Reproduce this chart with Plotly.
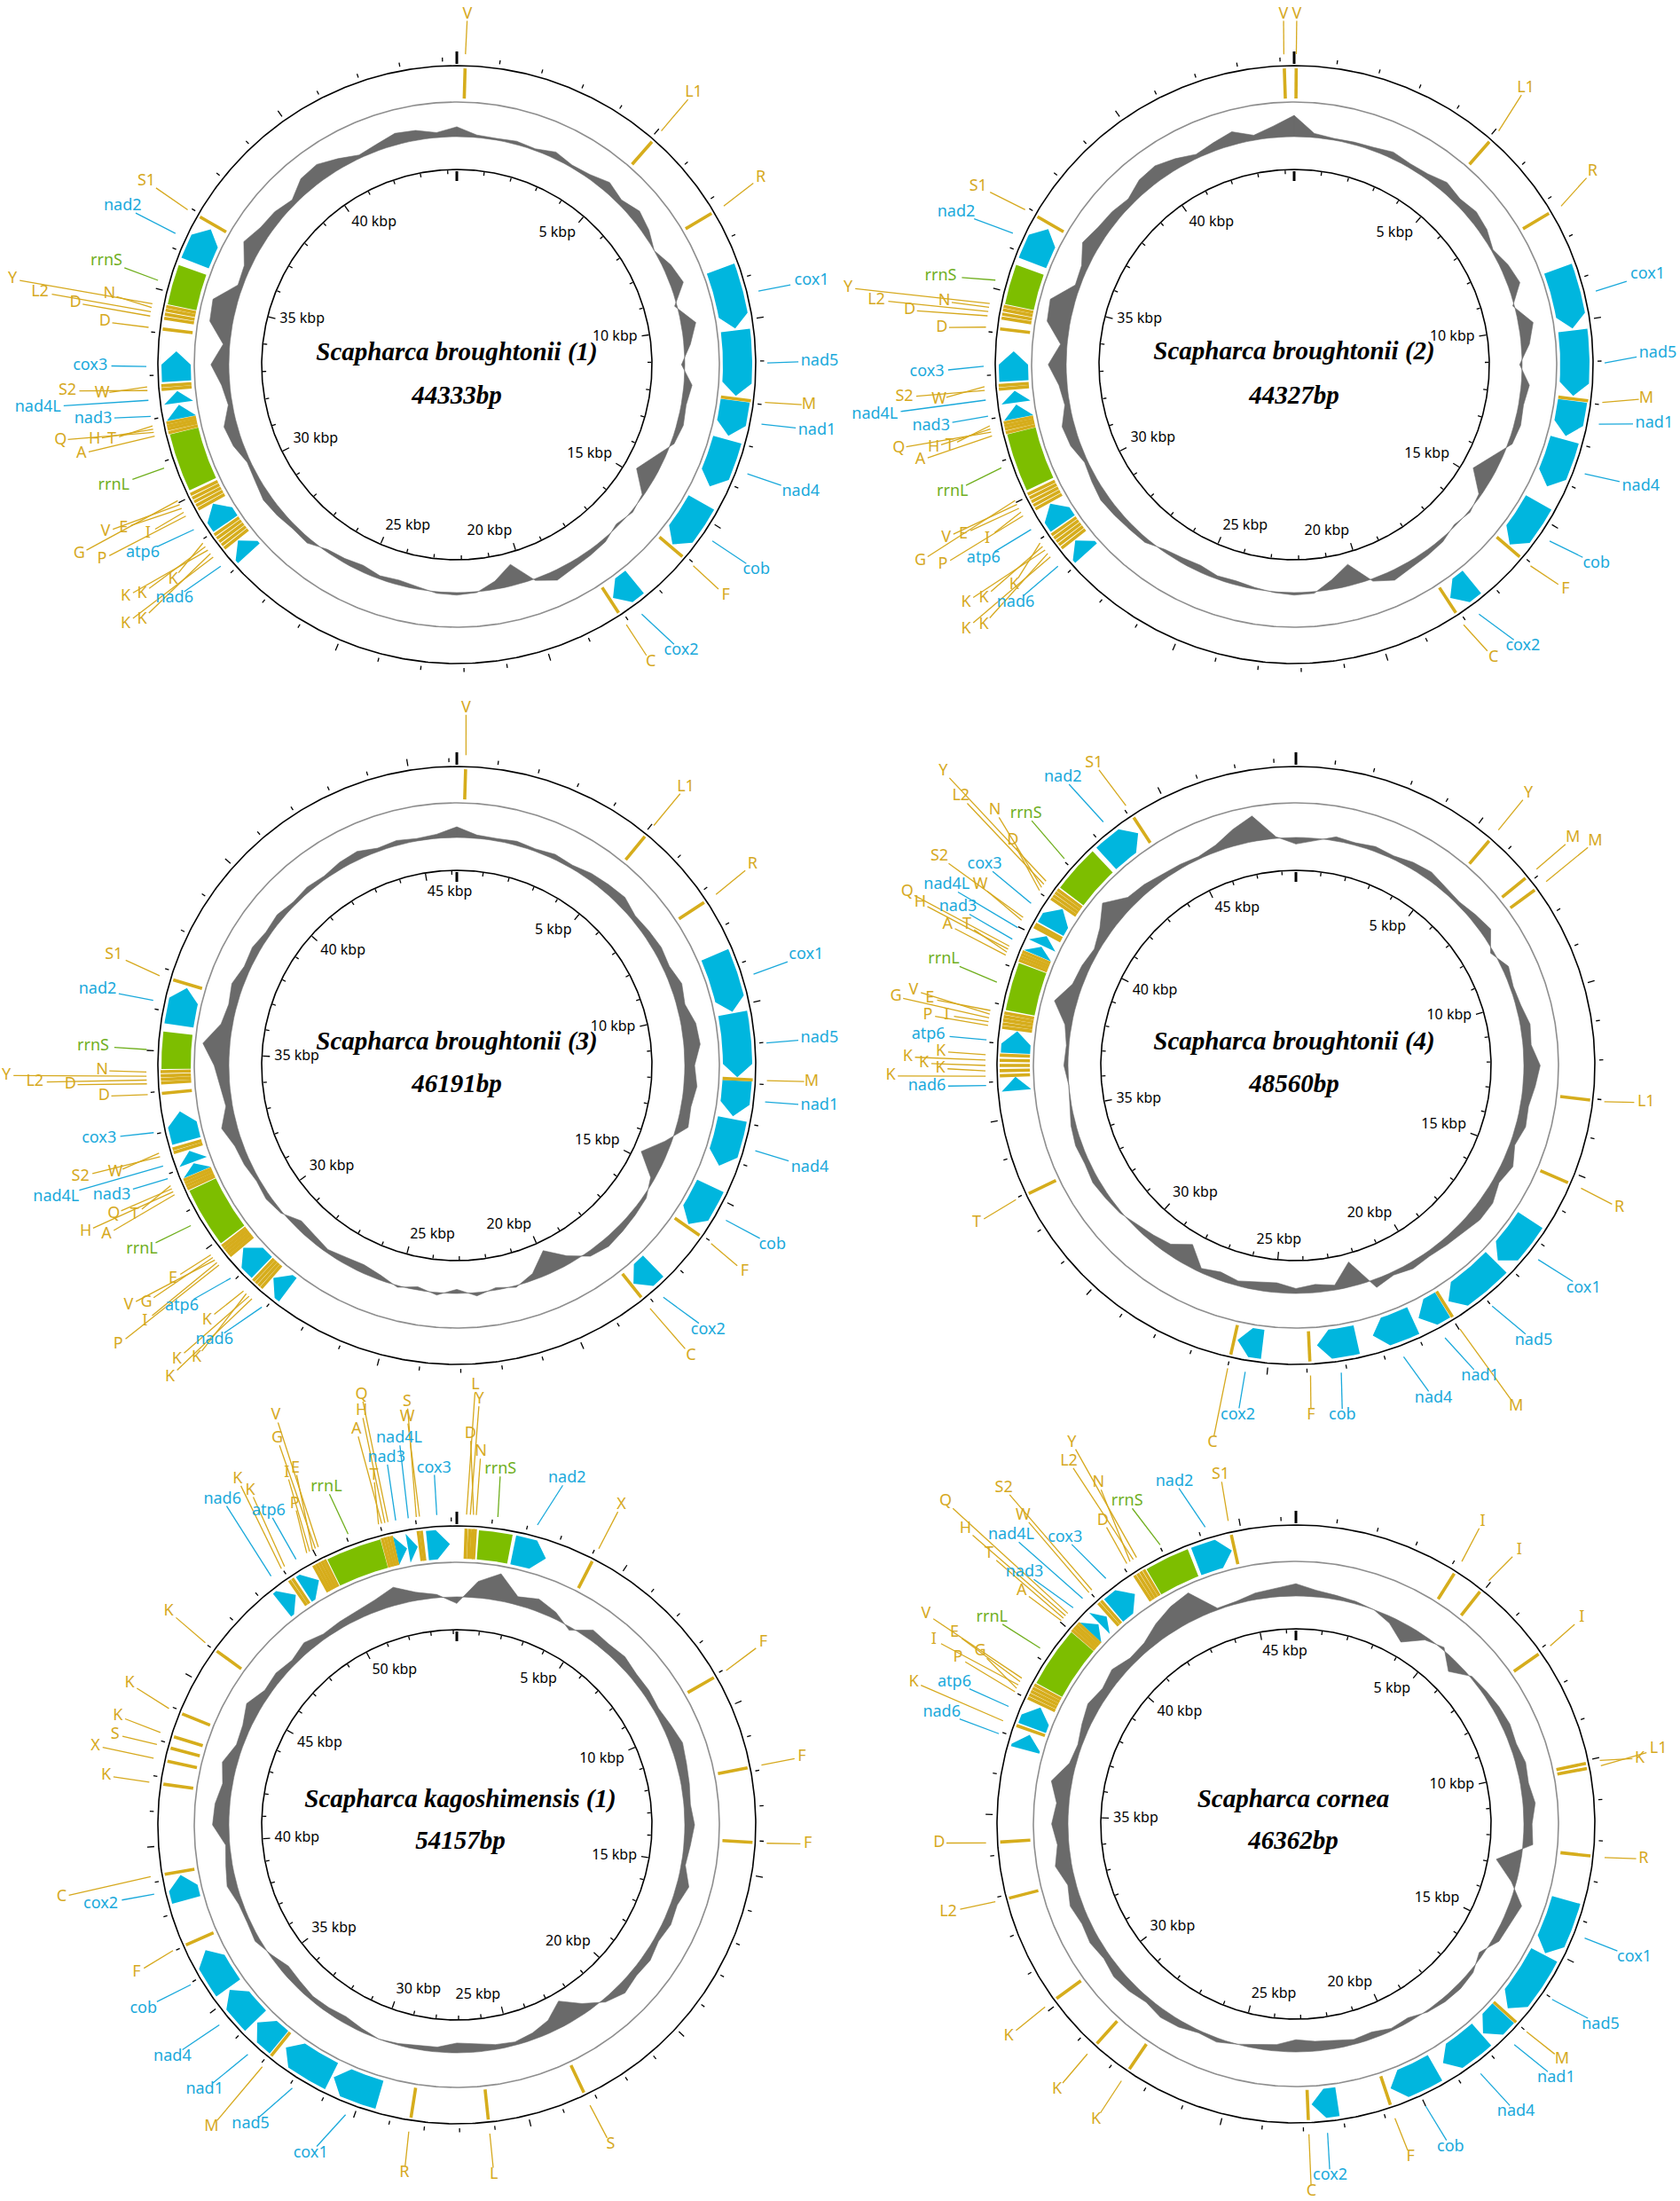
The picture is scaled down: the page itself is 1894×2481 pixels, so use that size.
import math
import plotly.graph_objects as go

# ============================================================ DATA
# positions in kbp (tRNA: start == end), GC deviation in arbitrary units (sampled every 5 deg)

m1_title, m1_len = "Scapharca broughtonii (1)", 44333
m1_names = ["V", "L1", "R", "cox1", "nad5", "M", "nad1", "nad4", "cob", "F", "cox2", "C",
            "nad6", "K", "K", "K", "K", "K", "atp6", "P", "I", "E", "V", "G", "rrnL",
            "A", "Q", "H", "T", "nad3", "nad4L", "S2", "W", "cox3", "D", "D", "L2", "N", "Y", "rrnS", "nad2", "S1"]
m1_start = [0.197, 5.074, 7.303, 8.620, 10.221, 11.945, 11.994, 12.992, 14.704, 16.058, 17.327, 18.090,
            28.053, 28.533, 28.632, 28.730, 28.829, 28.927, 29.001, 29.654, 29.752, 29.851, 29.949, 30.048, 30.146,
            31.612, 31.698, 31.772, 31.846, 31.895, 32.289, 32.659, 32.745, 32.831, 34.099, 34.358, 34.457, 34.555,
            34.641, 34.703, 35.860, 36.932]
m1_end = [0.197, 5.074, 7.303, 10.172, 11.871, 11.945, 12.894, 14.248, 15.985, 16.058, 18.004, 18.090,
          28.472, 28.533, 28.632, 28.730, 28.829, 28.927, 29.592, 29.654, 29.752, 29.851, 29.949, 30.048, 31.563,
          31.612, 31.698, 31.772, 31.846, 32.240, 32.585, 32.659, 32.745, 33.582, 34.099, 34.358, 34.457, 34.555,
          34.641, 35.676, 36.796, 36.932]
m1_gc = [12, 3, 2, 4, 2, 8, 3, 5, 12, 6, 13, 8,
         0, 10, 16, -3, 18, 8, -4, 10, 6, 8, 4, -12,
         -25, -2, 2, -3, 4, 6, 8, 12, 2, -26, -10, 1,
         3, 2, -3, -6, -4, -8, -5, -3, 6, 5, 8, 10,
         6, 4, 12, 16, 5, 10, 22, 8, 28, 30, 6, 8,
         22, 14, 12, 6, 18, 20, 12, 4, 8, 14, 12, 6]

m2_title, m2_len = "Scapharca broughtonii (2)", 44327
m2_names = ["V", "V"] + m1_names[1:]
m2_start = [44.093, 0.049] + m1_start[1:]
m2_end = [44.093, 0.049] + m1_end[1:]
m2_gc = [26, 5, 2, 3, 4, 8, 5, 6, 12, 8, 12, 9,
         2, 10, 15, -2, 18, 10, -3, 10, 6, 8, 5, -12,
         -26, -3, 2, -2, 4, 6, 8, 12, 3, -26, -12, 2,
         3, 1, -2, -5, -4, -8, -6, -3, 5, 6, 8, 10,
         7, 4, 12, 15, 6, 10, 22, 8, 28, 30, 6, 8,
         20, 14, 12, 8, 16, 18, 12, 5, 10, 16, 6, 14]

m3_title, m3_len = "Scapharca broughtonii (3)", 46191
m3_names = ["V", "L1", "R", "cox1", "nad5", "M", "nad1", "nad4", "cob", "F", "cox2", "C",
            "nad6", "K", "K", "K", "K", "atp6", "P", "I", "V", "G", "E", "rrnL",
            "A", "H", "Q", "T", "nad3", "nad4L", "S2", "W", "cox3", "D", "D", "L2", "Y", "N", "rrnS", "nad2", "S1"]
m3_start = [0.218, 5.055, 7.262, 8.571, 10.175, 11.907, 11.945, 12.959, 14.807, 16.039, 17.399, 18.156,
            27.843, 28.395, 28.484, 28.574, 28.664, 28.741, 29.511, 29.588, 29.665, 29.742, 29.819, 29.896,
            31.487, 31.564, 31.641, 31.718, 31.769, 32.064, 32.449, 32.539, 32.642, 33.950, 34.207, 34.297, 34.387,
            34.489, 34.553, 35.696, 36.799]
m3_end = [0.218, 5.055, 7.262, 10.136, 11.856, 11.907, 12.882, 14.229, 15.962, 16.039, 18.092, 18.156,
          28.330, 28.395, 28.484, 28.574, 28.664, 29.447, 29.511, 29.588, 29.665, 29.742, 29.819, 31.423,
          31.487, 31.564, 31.641, 31.718, 32.026, 32.372, 32.449, 32.539, 33.437, 33.950, 34.207, 34.297, 34.387,
          34.489, 35.490, 36.696, 36.799]
m3_gc = [13, 4, 3, 5, 3, 6, 4, 8, 10, 12, 6, 8,
         10, 8, 14, 10, 18, 20, 12, 16, 12, 14, -8, -30,
         -5, 4, 6, 8, 10, 6, -10, -29, -8, 2, -3, 4,
         -5, 3, -4, 2, -6, -10, -8, -4, -8, -10, 2, 6,
         4, 8, 10, 19, 8, 12, 18, 33, 14, 10, 14, 8,
         10, 6, 8, 4, 6, 4, 8, 10, 4, 6, 3, 5]

m4_title, m4_len = "Scapharca broughtonii (4)", 48560
m4_names = ["Y", "M", "M", "L1", "R", "cox1", "nad5", "M", "nad1", "nad4", "cob", "F", "cox2", "C", "T",
            "nad6", "K", "K", "K", "K", "K", "atp6", "P", "I", "G", "V", "E", "rrnL",
            "A", "T", "H", "Q", "nad3", "nad4L", "W", "S2", "cox3", "D", "N", "L2", "Y", "rrnS", "nad2", "S1"]
m4_start = [5.490, 6.852, 7.244, 13.044, 15.283, 16.645, 18.143, 19.977, 20.031, 20.948, 22.594, 23.916,
            25.197, 25.993, 32.967,
            35.732, 36.150, 36.285, 36.420, 36.554, 36.690, 36.757, 37.418, 37.513, 37.607, 37.702, 37.796, 37.877,
            39.226, 39.307, 39.388, 39.469, 39.523, 39.833, 40.184, 40.264, 40.346, 41.047, 41.141, 41.236, 41.330,
            41.411, 42.827, 44.082]
m4_end = [5.490, 6.852, 7.244, 13.044, 15.283, 18.075, 19.842, 19.977, 20.786, 22.135, 23.700, 23.916,
          25.899, 25.993, 32.967,
          36.110, 36.150, 36.285, 36.420, 36.554, 36.690, 37.364, 37.418, 37.513, 37.607, 37.702, 37.796, 39.158,
          39.226, 39.307, 39.388, 39.469, 39.792, 40.116, 40.184, 40.264, 40.981, 41.047, 41.141, 41.236, 41.330,
          42.692, 43.947, 44.082]
m4_gc = [-8, -3, 5, 3, 6, 4, 8, 10, 6, 4, 8, 12,
         -4, 8, 4, 6, 12, 10, 20, 15, 10, 12, 6, 14,
         8, 15, 15, 10, 8, 6, 8, 4, 10, -30, -6, -10,
         -6, -12, -10, -6, -10, -5, -26, -12, -8, -4, 2, 5,
         8, 6, 8, 6, 2, 0, 5, 3, 8, 27, 12, 10,
         6, 14, 30, 12, 10, 6, 5, 3, 8, 20, 31, 2]

m5_title, m5_len = "Scapharca kagoshimensis (1)", 54157
m5_names = ["L", "Y", "D", "N", "rrnS", "nad2", "X", "F", "F", "F", "S", "L", "R", "cox1", "nad5", "M", "nad1",
            "nad4", "cob", "F", "cox2", "C", "K", "X", "S", "K", "K", "K", "nad6", "K", "K", "atp6", "P", "I",
            "E", "G", "V", "rrnL", "T", "A", "H", "Q", "nad3", "nad4L", "S", "W", "cox3"]
m5_start = [0.271, 0.376, 0.466, 0.542, 0.647, 1.745, 4.092, 9.056, 11.869, 14.051, 23.257, 26.161, 28.417,
            29.485, 31.065, 32.915, 32.991, 33.968, 35.277, 37.022, 38.286, 39.174, 41.806, 42.483, 42.874,
            43.220, 43.927, 46.018, 48.365, 48.982, 49.087, 49.193, 49.809, 49.899, 49.990, 50.080, 50.170,
            50.246, 51.960, 52.051, 52.141, 52.231, 52.276, 52.653, 53.029, 53.119, 53.254]
m5_end = [0.271, 0.376, 0.466, 0.542, 1.640, 2.783, 4.092, 9.056, 11.869, 14.051, 23.257, 26.161, 28.417,
          30.990, 32.720, 32.915, 33.893, 35.202, 36.631, 37.022, 39.068, 39.174, 41.806, 42.483, 42.874,
          43.220, 43.927, 46.018, 48.892, 48.982, 49.087, 49.734, 49.809, 49.899, 49.990, 50.080, 50.170,
          51.900, 51.960, 52.051, 52.141, 52.231, 52.622, 52.953, 53.029, 53.119, 53.946]
m5_gc = [-8, 20, 33, 10, 15, 8, -4, 12, 10, 12, 8, 8,
         6, 10, 15, 12, 10, 8, 12, 8, 5, 15, 8, 10,
         6, 10, 8, 12, 4, -12, -30, -15, -8, -4, -6, -10,
         -12, -6, -5, -2, 0, -4, -8, -6, -5, -8, -10, -2,
         6, 4, 5, 12, 8, 5, 20, 18, 12, 18, 8, 10,
         18, 8, 10, 6, 12, 6, 8, 10, 14, 22, 10, 4]

m6_title, m6_len = "Scapharca cornea", 46362
m6_names = ["I", "I", "I", "K", "L1", "R", "cox1", "nad5", "M", "nad1", "nad4", "cob", "F", "cox2", "C",
            "K", "K", "K", "L2", "D", "nad6", "K", "atp6", "P", "G", "I", "E", "V", "rrnL",
            "A", "T", "H", "Q", "nad3", "nad4L", "W", "S2", "cox3", "D", "N", "L2", "Y", "rrnS", "nad2", "S1"]
m6_start = [4.160, 4.945, 7.083, 10.071, 10.200, 12.389, 13.612, 15.171, 17.000, 17.051, 17.849, 19.356,
            20.786, 22.086, 22.872, 27.585, 28.616, 30.123, 32.904, 34.321, 36.742, 37.270, 37.347, 38.017,
            38.107, 38.197, 38.288, 38.378, 38.442, 40.039, 40.116, 40.193, 40.271, 40.309, 40.644, 40.979,
            41.069, 41.146, 42.112, 42.202, 42.292, 42.383, 42.448, 43.684, 44.739]
m6_end = [4.160, 4.945, 7.083, 10.071, 10.200, 12.389, 15.119, 16.871, 17.000, 17.798, 19.112, 20.644,
          20.786, 22.769, 22.872, 27.585, 28.616, 30.123, 32.904, 34.321, 37.154, 37.270, 37.927, 38.017,
          38.107, 38.197, 38.288, 38.378, 39.987, 40.039, 40.116, 40.193, 40.271, 40.605, 40.902, 40.979,
          41.069, 41.855, 42.112, 42.202, 42.292, 42.383, 43.594, 44.663, 44.739]
m6_gc = [15, 8, 5, 3, 0, -8, -22, -4, 3, -15, 2, 5,
         8, 10, 8, 12, 10, 15, 10, 12, -30, -6, 15, 10,
         8, -5, 4, 6, 5, 2, -5, -3, -8, -6, -10, -12,
         -15, -8, -5, 0, 5, 3, 8, 10, 6, 10, 12, 8,
         12, 10, 15, 10, 20, 14, 20, 15, 25, 8, 5, 10,
         15, 10, 15, 8, 10, 20, 28, 33, 2, 3, 8, 10]

# ============================================================ LAYOUT (positions / styles)
CENTERS = [(515, 411), (1459, 411), (515, 1201), (1461, 1201), (515, 2057), (1461, 2056)]
TITLE_DY = [(-12, 37), (-13, 37), (-25, 23), (-25, 23), (-27, 20), (-26, 21)]
TITLE_DX = [0, 0, 0, -2, 4, -3]

LBL1 = [(12, -395), (267, -306.5), (342.5, -211), (400, -94.6), (409, -4), (397, 45.7), (406, 74),
        (387.8, 143.7), (337.7, 231.8), (303.2, 260.6), (253, 322.8), (218.7, 335.3),
        (-318.3, 263.6), (-373.3, 292.2), (-355, 287.6), (-373.3, 261.9), (-355, 258.3), (-320, 242.2),
        (-354, 212.6), (-400, 219.7), (-348.3, 190.4), (-375.7, 184), (-396, 188.6), (-425.7, 213.6),
        (-386.7, 136.9), (-423.3, 100.4), (-446.7, 85.1), (-408.3, 84), (-389, 84), (-410, 61.1),
        (-472.3, 48.3), (-439, 29.7), (-400, 32.6), (-413.3, 1.1), (-396.7, -48.1), (-430, -69.6),
        (-470, -81.7), (-391.7, -79.2), (-501, -96.4), (-395, -116.7), (-376.7, -178.5), (-350, -206.7)]
LBL2 = [(-12, -395), (3, -395), (261, -311.5), (336.4, -218), (398.6, -101.5), (410, -13), (396.8, 38.3),
        (405.9, 66.6), (390.8, 137.3), (340.7, 224.8), (306, 253.2), (257.9, 317.9), (224.7, 330.3),
        (-314, 268), (-370, 298), (-350, 293), (-370, 268), (-350, 263), (-315.7, 248),
        (-350.2, 218.4), (-396, 225.8), (-346, 196), (-373, 191), (-392.4, 195), (-421.4, 221.8),
        (-385.2, 143.7), (-421.4, 107.9), (-445.6, 94), (-406.3, 93), (-388.2, 91.5), (-409.3, 69.1),
        (-472.7, 56.7), (-439.5, 36.8), (-400.3, 39.2), (-414, 8.4), (-397.3, -41.8), (-433.5, -61.2),
        (-471, -72.7), (-394.3, -71.2), (-503, -86.6), (-398.5, -100), (-381, -172), (-356.2, -201)]
LBL3 = [(10.4, -402.7), (258, -313.8), (333.4, -226.4), (393.8, -124.4), (408.9, -30.3), (399.8, 18.3),
        (408.9, 45.5), (398, 115), (355.8, 202.4), (324.4, 232.8), (283.3, 298.2), (264, 327),
        (-273.3, 309.2), (-323.3, 351), (-315.7, 331.4), (-293.3, 329.5), (-281.7, 287),
        (-310, 271.1), (-381.7, 314.7), (-351.7, 288.8), (-370, 270.4), (-350, 267.4), (-320, 240.8),
        (-355, 207.5), (-395, 190.8), (-418.3, 187.1), (-386.7, 167.5), (-363.3, 168.6), (-389, 146.4),
        (-451.7, 148.3), (-424.3, 125.3), (-385, 120.5), (-403.3, 82.4), (-397.7, 34.7), (-435.7, 21.7),
        (-475.7, 18.8), (-508, 11.4), (-400, 5.8), (-410, -21.9), (-405, -85.5), (-386.7, -124.8)]
LBL4 = [(262, -307), (312.1, -256.3), (337.4, -252.6), (394.8, 41.9), (364.6, 160.6), (324.2, 251.1),
        (268, 310.2), (248.1, 384.4), (207.6, 350.4), (155.1, 375), (52.4, 394.9), (17, 394), (-65.4, 394),
        (-94, 425.6), (-360, 177.9),
        (-416, 23.6), (-457, 11.9), (-401, 3.3), (-419.3, -2.4), (-437.7, -9.6), (-400.3, -15.6),
        (-414.3, -34.6), (-415, -56.7), (-393.7, -56.7), (-451, -77.4), (-431, -84.6), (-412.7, -75.3),
        (-397, -119.2), (-392.7, -158.5), (-371, -158.5), (-423.7, -183.5), (-438.3, -196), (-381, -178.1),
        (-393.7, -203.1), (-356, -203.1), (-402, -235.3), (-351, -226.4), (-319.3, -253.1), (-339.3, -287.1),
        (-377.7, -303.1), (-397.7, -331.7), (-304.3, -283.5), (-262.7, -324.6), (-227.7, -340.6)]
LBL5 = [(21, -495.1), (25.5, -479.4), (15.4, -440.3), (27.1, -420.3), (49.3, -400.3), (124.3, -390.3),
        (185.5, -360.4), (345.5, -205.3), (389, -76.1), (395.6, 21.6), (173.4, 360.4), (41.8, 394.1),
        (-59.1, 392.4), (-164.8, 370), (-232.4, 337.9), (-276.5, 340.7), (-284.3, 298.6), (-320.6, 261),
        (-353.2, 207), (-361, 166.6), (-401.5, 89.1), (-445.6, 81.2), (-395.4, -55.3), (-407.5, -89),
        (-385.2, -101.9), (-382.2, -122.7), (-368.9, -159.2), (-324.8, -240.7), (-264.3, -367),
        (-247.1, -389.7), (-232.9, -377), (-212.1, -353.7), (-182.9, -362), (-191.8, -397), (-182.1, -402),
        (-202.5, -435.3), (-204, -461.1), (-147.1, -380.3), (-93.6, -393.7), (-113.2, -445.3),
        (-107.4, -466.3), (-107.4, -484.6), (-79.3, -413.7), (-65, -435.3), (-56, -476.8), (-56, -460),
        (-25.7, -402)]
LBL6 = [(210.6, -340.8), (251.7, -308.8), (322.4, -232.4), (387.6, -74), (408.7, -84.1), (391.8, 39.5),
        (381.5, 150.7), (343.5, 226.6), (300, 265.9), (293.4, 286.7), (248.1, 324.9), (174.4, 364.2),
        (129.1, 375.5), (38.5, 396.8), (17.4, 414.8), (-225.4, 333.3), (-269.4, 299.6), (-323.8, 239.5),
        (-392, 99), (-402.3, 21.5), (-399.3, -126), (-431, -160), (-385, -160), (-381, -187.7),
        (-356, -194.3), (-408.3, -207.7), (-385, -215.3), (-417, -236.7), (-342.7, -232.7),
        (-309.3, -262.7), (-346, -304.3), (-372.7, -332.7), (-395, -363.3), (-306, -283.3), (-321, -325.3),
        (-307.7, -347.7), (-329.3, -378.7), (-260.3, -322.7), (-217.7, -342), (-222.7, -384.3),
        (-256, -408.7), (-252.7, -430), (-190.3, -363.3), (-137, -386), (-85, -393.3)]

MAPS = [
    (m1_title, m1_len, m1_names, m1_start, m1_end, m1_gc, LBL1),
    (m2_title, m2_len, m2_names, m2_start, m2_end, m2_gc, LBL2),
    (m3_title, m3_len, m3_names, m3_start, m3_end, m3_gc, LBL3),
    (m4_title, m4_len, m4_names, m4_start, m4_end, m4_gc, LBL4),
    (m5_title, m5_len, m5_names, m5_start, m5_end, m5_gc, LBL5),
    (m6_title, m6_len, m6_names, m6_start, m6_end, m6_gc, LBL6),
]

R_OUT, R_GREY, R_G1, R_G2, R_GC, R_IN = 337, 296, 300, 333, 257, 220
R_LEAD = 350
HEAD_PX = 15
LBL_FS = 18
GC_SCALE = 0.92
PROTEIN = {"cox1", "cox2", "cox3", "nad1", "nad2", "nad3", "nad4", "nad4L", "nad5", "nad6", "cob", "atp6"}
FILL = {"p": "#00B6DE", "r": "#7DBE00", "t": "#D6AD1C"}
TEXTC = {"p": "#1AA9DB", "r": "#70AF1E", "t": "#D6A91E"}
GREY_GC = "#6A6A6A"
GREY_CIRC = "#8E8E8E"

FIG_W, FIG_H = 1894, 2481


def kind(n):
    if n in PROTEIN:
        return "p"
    if n.startswith("rrn"):
        return "r"
    return "t"


def P(c, r, a):
    t = math.radians(a)
    return (c[0] + r * math.sin(t), c[1] - r * math.cos(t))


class Seg:
    def __init__(self):
        self.x, self.y = [], []

    def add(self, pts):
        for p in pts:
            self.x.append(p[0])
            self.y.append(p[1])
        self.x.append(None)
        self.y.append(None)


def band_poly(c, a1, a2, r1, r2, head):
    rm = (r1 + r2) / 2
    hd = math.degrees(head / rm) if head else 0.0
    ah = max(a1, a2 - hd)
    n = max(2, int((ah - a1) / 0.4) + 2)
    inner = [P(c, r1, a1 + (ah - a1) * i / (n - 1)) for i in range(n)]
    outer = [P(c, r2, ah - (ah - a1) * i / (n - 1)) for i in range(n)]
    if head:
        return inner + [P(c, rm, a2)] + outer
    return inner + outer


circ_black, circ_grey = Seg(), Seg()
gene_poly = {"p": Seg(), "r": Seg()}
trna = Seg()
ticks, ticks_bold = Seg(), Seg()
leaders = {"p": Seg(), "r": Seg(), "t": Seg()}
labels = {"p": ([], [], []), "r": ([], [], []), "t": ([], [], [])}
kb_x, kb_y, kb_t, kb_pos = [], [], [], []
ti_x, ti_y, ti_t = [], [], []
gc_traces = []

for mi, (title, L, names, starts, ends, gc, lbl) in enumerate(MAPS):
    c = CENTERS[mi]
    deg = lambda kb: kb * 1000.0 / L * 360.0
    for r, seg in ((R_OUT, circ_black), (R_IN, circ_black), (R_GREY, circ_grey)):
        seg.add([P(c, r, a / 2) for a in range(0, 721)])
    # GC track
    n = len(gc)
    curve = [P(c, R_GC + GC_SCALE * v, i * 360.0 / n) for i, v in enumerate(gc)]
    curve.append(P(c, R_GC + GC_SCALE * gc[0], 360))
    base = [P(c, R_GC, a) for a in range(360, -1, -2)]
    pts = curve + base
    gc_traces.append(go.Scatter(x=[p[0] for p in pts], y=[p[1] for p in pts], mode="lines",
                                fill="toself", fillcolor=GREY_GC, line=dict(width=0.6, color=GREY_GC),
                                hoverinfo="skip", showlegend=False))
    # ticks
    for k in range(0, int(L // 1000) + 1):
        a = k * 1000.0 / L * 360.0
        if k == 0:
            ticks_bold.add([P(c, 339, a), P(c, 353, a)])
            ticks_bold.add([P(c, 218, a), P(c, 207, a)])
            continue
        major = (k % 5 == 0)
        ticks.add([P(c, 342, a), P(c, 350 if major else 346.5, a)])
        ticks.add([P(c, 219, a), P(c, 211 if major else 215, a)])
        if major:
            lp = P(c, 206, a)
            s, co = math.sin(math.radians(a)), math.cos(math.radians(a))
            vx = "left" if s > 0.12 else ("right" if s < -0.12 else "center")
            vy = "bottom" if co > 0.35 else ("top" if co < -0.35 else "middle")
            kb_x.append(lp[0]); kb_y.append(lp[1]); kb_t.append(f"{k} kbp")
            kb_pos.append(f"{vy} {vx}")
    # features
    for name, s, e, (dx, dy) in zip(names, starts, ends, lbl):
        kd = kind(name)
        a1, a2 = deg(s), deg(e)
        if kd == "t":
            trna.add([P(c, R_G1, a1), P(c, R_G2 + 1, a1)])
        elif kd == "r":
            gene_poly["r"].add(band_poly(c, a1, a2, R_G1, R_G2, 0))
        else:
            gene_poly["p"].add(band_poly(c, a1, a2, R_G1, R_G2, HEAD_PX))
        am = (a1 + a2) / 2
        st = P(c, R_LEAD, am)
        lx, ly = c[0] + dx, c[1] + dy
        vx, vy = st[0] - lx, st[1] - ly
        hw = 0.29 * LBL_FS * len(name) + 3
        hh = 0.42 * LBL_FS
        sc = min(hw / abs(vx) if abs(vx) > 1e-6 else 1e9, hh / abs(vy) if abs(vy) > 1e-6 else 1e9)
        if sc < 0.95:
            leaders[kd].add([st, (lx + vx * sc, ly + vy * sc)])
        labels[kd][0].append(lx); labels[kd][1].append(ly); labels[kd][2].append(name)
    ti_x += [c[0] + TITLE_DX[mi], c[0] + TITLE_DX[mi]]
    ti_y += [c[1] + TITLE_DY[mi][0], c[1] + TITLE_DY[mi][1]]
    ti_t += [title, f"{L}bp"]

fig = go.Figure()
fig.add_trace(go.Scatter(x=circ_grey.x, y=circ_grey.y, mode="lines", line=dict(color=GREY_CIRC, width=1.6),
                         hoverinfo="skip"))
fig.add_trace(go.Scatter(x=circ_black.x, y=circ_black.y, mode="lines", line=dict(color="black", width=1.6),
                         hoverinfo="skip"))
for t in gc_traces:
    fig.add_trace(t)
for kd in ("r", "p"):
    g = gene_poly[kd]
    fig.add_trace(go.Scatter(x=g.x, y=g.y, mode="lines", fill="toself", fillcolor=FILL[kd],
                             line=dict(width=0, color=FILL[kd]), hoverinfo="skip"))
fig.add_trace(go.Scatter(x=trna.x, y=trna.y, mode="lines", line=dict(color=FILL["t"], width=3.6),
                         hoverinfo="skip"))
fig.add_trace(go.Scatter(x=ticks.x, y=ticks.y, mode="lines", line=dict(color="black", width=1.3),
                         hoverinfo="skip"))
fig.add_trace(go.Scatter(x=ticks_bold.x, y=ticks_bold.y, mode="lines", line=dict(color="black", width=3),
                         hoverinfo="skip"))
for kd in ("t", "p", "r"):
    g = leaders[kd]
    fig.add_trace(go.Scatter(x=g.x, y=g.y, mode="lines", line=dict(color=TEXTC[kd], width=1.3),
                             hoverinfo="skip"))
for kd in ("t", "p", "r"):
    xs, ys, ts = labels[kd]
    fig.add_trace(go.Scatter(x=xs, y=ys, text=ts, mode="text", textposition="middle center",
                             textfont=dict(family="Noto Sans", size=LBL_FS, color=TEXTC[kd]),
                             hoverinfo="skip"))
fig.add_trace(go.Scatter(x=kb_x, y=kb_y, text=kb_t, mode="text", textposition=kb_pos,
                         textfont=dict(family="Noto Sans", size=16, color="black"), hoverinfo="skip"))
fig.add_trace(go.Scatter(x=ti_x, y=ti_y, text=ti_t, mode="text", textposition="middle center",
                         textfont=dict(family="Liberation Serif", size=29, color="black",
                                       weight="bold", style="italic"),
                         hoverinfo="skip"))

fig.update_layout(
    width=FIG_W, height=FIG_H, margin=dict(l=0, r=0, t=0, b=0),
    paper_bgcolor="white", plot_bgcolor="white", showlegend=False,
    xaxis=dict(range=[0, FIG_W], visible=False, fixedrange=True),
    yaxis=dict(range=[FIG_H, 0], visible=False, fixedrange=True),
)
fig.write_html("out.html", config={"displayModeBar": False},
               post_script="document.body.style.margin='0px';document.body.style.overflow='hidden';")
